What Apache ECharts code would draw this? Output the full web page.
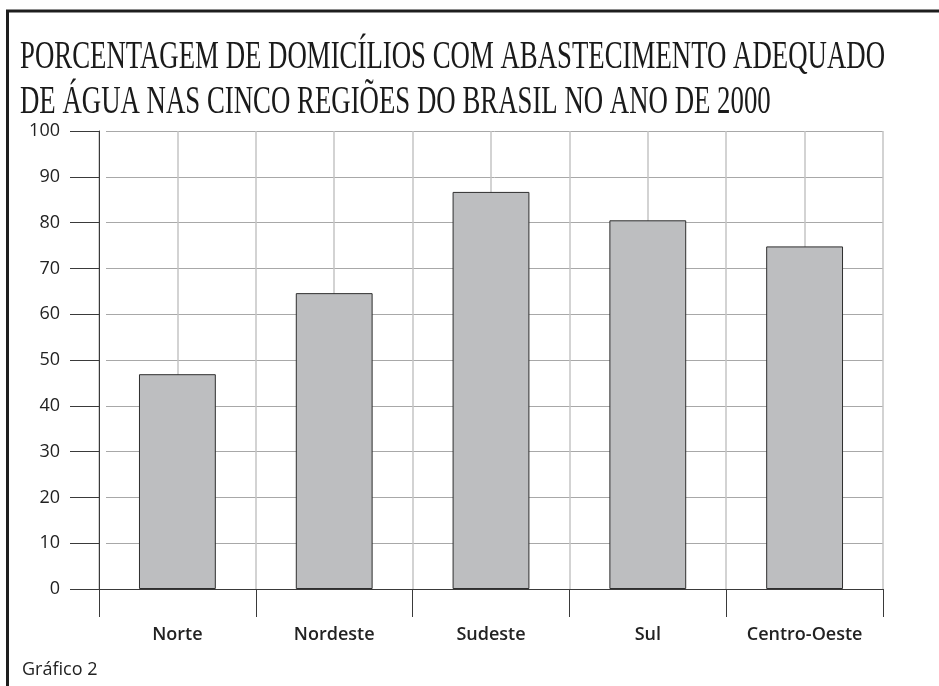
<!DOCTYPE html>
<html>
<head>
<meta charset="utf-8">
<script src="https://cdn.jsdelivr.net/npm/echarts@6/dist/echarts.min.js"></script>
<style>
html,body{margin:0;padding:0;background:#fff;}
#chart{width:939px;height:686px;}
</style>
</head>
<body>
<div id="chart"></div>
<script>
const titleLines = [
  'PORCENTAGEM DE DOMICÍLIOS COM ABASTECIMENTO ADEQUADO',
  'DE ÁGUA NAS CINCO REGIÕES DO BRASIL NO ANO DE 2000'
];
const categories = ['Norte', 'Nordeste', 'Sudeste', 'Sul', 'Centro-Oeste'];
const values = [46.9, 64.6, 86.7, 80.5, 74.8];
const yTicks = [0, 10, 20, 30, 40, 50, 60, 70, 80, 90, 100];
const caption = 'Gráfico 2';

const titleFont = '40px "Liberation Serif"';
const ctx = document.createElement('canvas').getContext('2d');
ctx.font = titleFont;
const sx = 865 / ctx.measureText(titleLines[0]).width;

const chart = echarts.init(document.getElementById('chart'), null, {renderer: 'canvas'});
const yMin = yTicks[0], yMax = yTicks[yTicks.length - 1], yStep = yTicks[1] - yTicks[0];
const labelFont = '"Open Sans", sans-serif';

chart.setOption({
  animation: false,
  backgroundColor: '#fff',
  grid: [
    {left: 99, width: 784, top: 131, height: 458, containLabel: false},
    {left: 106, width: 777, top: 131, height: 458, containLabel: false}
  ],
  xAxis: [
    {
      type: 'category', gridIndex: 0, data: categories,
      axisLine: {show: true, lineStyle: {color: '#3a3a3a', width: 1}},
      axisTick: {show: true, length: 28, lineStyle: {color: '#3a3a3a', width: 1}},
      axisLabel: {margin: 37, fontFamily: labelFont, fontSize: 18, fontWeight: 600, color: '#222'},
      splitLine: {show: false}, z: 5
    },
    {
      type: 'value', gridIndex: 0, min: 0, max: categories.length * 2, interval: 1,
      axisLine: {show: false}, axisTick: {show: false}, axisLabel: {show: false},
      splitLine: {show: true, lineStyle: {color: '#c4c4c4', width: 1.5}}
    },
    {
      type: 'value', gridIndex: 1, min: 0, max: 1, show: false
    }
  ],
  yAxis: [
    {
      type: 'value', gridIndex: 0, min: yMin, max: yMax, interval: yStep,
      axisLine: {show: true, lineStyle: {color: '#3a3a3a', width: 1}},
      axisTick: {show: true, length: 29, lineStyle: {color: '#3a3a3a', width: 1}},
      axisLabel: {margin: 39, fontFamily: labelFont, fontSize: 18, color: '#222'},
      splitLine: {show: false}, z: 5
    },
    {
      type: 'value', gridIndex: 1, min: yMin, max: yMax, interval: yStep,
      axisLine: {show: false}, axisTick: {show: false}, axisLabel: {show: false},
      splitLine: {show: true, lineStyle: {color: '#a8a8a8', width: 1}}
    }
  ],
  series: [{
    type: 'bar', xAxisIndex: 0, yAxisIndex: 0, data: values,
    barWidth: '49%',
    itemStyle: {color: '#bdbec0', borderColor: '#2e2e2e', borderWidth: 1},
    z: 3
  }],
  graphic: [
    {
      type: 'polyline', z: 10, silent: true,
      shape: {points: [[7.5, 686], [7.5, 11], [939, 11]]},
      style: {stroke: '#1e1e1e', lineWidth: 3, fill: null}
    },
    {
      type: 'text', x: 20, y: 57, scaleX: sx, scaleY: 1,
      style: {text: titleLines[0], font: titleFont, fill: '#1a1a1a', verticalAlign: 'middle', align: 'left'}
    },
    {
      type: 'text', x: 20, y: 102, scaleX: sx, scaleY: 1,
      style: {text: titleLines[1], font: titleFont, fill: '#1a1a1a', verticalAlign: 'middle', align: 'left'}
    },
    {
      type: 'text', x: 22, y: 670,
      style: {text: caption, font: '18px "Open Sans"', fill: '#222', verticalAlign: 'middle', align: 'left'}
    }
  ]
});
</script>
</body>
</html>
